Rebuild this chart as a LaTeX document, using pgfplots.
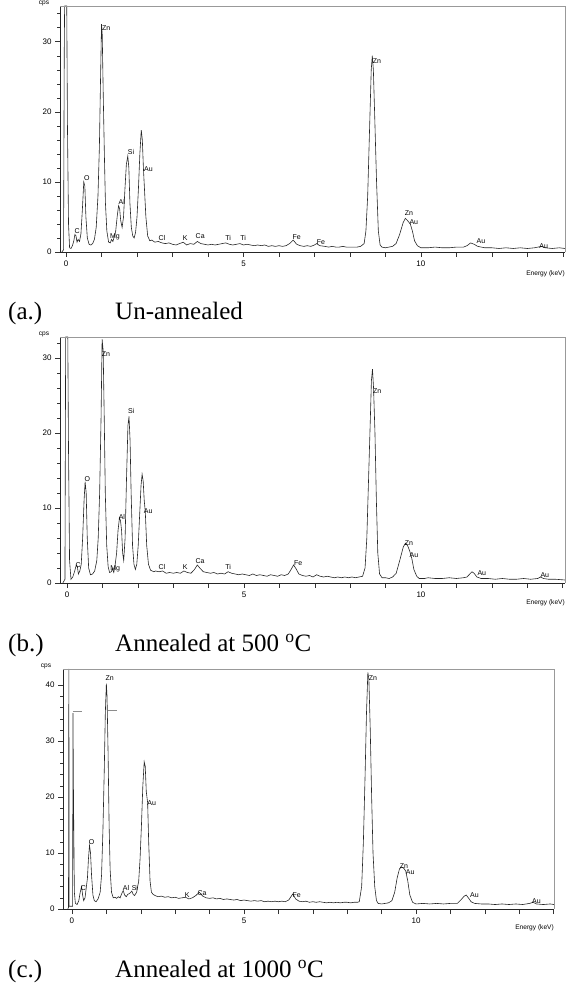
\documentclass[border=0pt]{standalone}
\usepackage{fontspec}
\setmainfont{Liberation Serif}
\newfontfamily\arial{Liberation Sans}
\usepackage{pgfplots}
\pgfplotsset{compat=1.18}

\pgfplotsset{
  eds/.style={
    scale only axis, clip=false, anchor=south west,
    axis x line*=bottom, axis y line*=left,
    axis line style={black!85, line width=0.6pt},
    xtick={0,...,14}, xticklabels={0,,,,,5,,,,,10,,,,},
    ytick={0,10,...,40}, minor y tick num=4,
    tick align=outside,
    major tick length=5pt, minor tick length=3pt,
    every tick/.style={black!80, line width=0.5pt},
    ticklabel style={font=\arial\fontsize{8}{9}\selectfont},
    /pgf/number format/assume math mode=true,
    ymin=0,
  },
  spec/.style={black!85, line width=0.6pt, mark=none},
}
\tikzset{
  lab/.style={font=\arial\fontsize{7}{8}\selectfont, inner sep=0pt},
  small/.style={font=\arial\fontsize{6.6}{7}\selectfont, inner sep=0pt},
  captxt/.style={anchor=base west, font=\fontsize{25}{28}\selectfont, inner sep=0pt},
}

\begin{document}
\begin{tikzpicture}
\useasboundingbox (0pt,0pt) rectangle (566pt,985pt);

% ---------------- (a) un-annealed
\begin{axis}[eds, at={(60pt,733pt)}, width=505pt, height=246pt,
  xmin=-0.17, xmax=14.06, ymax=35.1]
\addplot[spec] coordinates {
(-0.12,0) (-0.07,0.3) (-0.05,28.5) (-0.04,35.1) (0.02,35.1) (0.04,18) (0.07,4) (0.1,0.6)
(0.14,0.5) (0.18,0.9) (0.22,1.6) (0.25,2.5) (0.28,2.3) (0.31,1.4) (0.34,1.8) (0.38,1.5)
(0.42,2.6) (0.46,6) (0.5,10) (0.53,9.4) (0.56,5) (0.6,2) (0.65,1.1) (0.7,1.0) (0.75,1.2)
(0.8,1.8) (0.85,3.5) (0.9,8) (0.94,15) (0.97,24) (1.0,32.5) (1.02,31) (1.05,22) (1.08,14)
(1.11,7) (1.15,3) (1.2,1.4) (1.25,1.3) (1.28,1.8) (1.32,1.5) (1.36,2.2) (1.4,3) (1.44,5)
(1.48,6.6) (1.51,6.2) (1.54,4.5) (1.58,3.5) (1.62,5) (1.66,9) (1.7,12.5) (1.74,13.7)
(1.77,12) (1.8,7) (1.84,3.5) (1.88,2.3) (1.92,2.0) (1.96,2.8) (2.0,5) (2.04,9) (2.08,14)
(2.12,17.4) (2.15,16) (2.18,12) (2.21,9) (2.25,5) (2.3,2.3) (2.36,1.6) (2.42,1.7)
(2.5,1.4) (2.6,1.5) (2.7,1.3) (2.8,1.2) (2.9,1.3) (3.0,1.1) (3.1,1.0) (3.2,1.2) (3.3,1.4)
(3.4,1.0) (3.5,1.2) (3.6,1.1) (3.7,1.5) (3.8,1.2) (3.9,1.1) (4.0,1.0) (4.1,1.1) (4.2,1.0)
(4.3,1.1) (4.4,1.2) (4.5,1.3) (4.6,1.1) (4.7,1.0) (4.8,1.1) (4.9,1.2) (5.0,1.0) (5.1,1.1)
(5.2,1.0) (5.3,0.9) (5.4,1.0) (5.5,0.9) (5.6,1.0) (5.7,0.8) (5.8,0.9) (5.9,0.8) (6.0,0.9)
(6.1,0.8) (6.2,0.9) (6.3,1.2) (6.4,1.7) (6.5,1.1) (6.6,0.9) (6.7,0.8) (6.8,0.9) (6.9,0.8)
(7.0,1.0) (7.06,1.2) (7.15,0.9) (7.3,0.8) (7.4,0.7) (7.5,0.8) (7.6,0.7) (7.7,0.7) (7.8,0.8)
(7.9,0.7) (8.0,0.7) (8.1,0.7) (8.2,0.7) (8.3,0.8) (8.4,1.2) (8.45,3) (8.5,8) (8.55,17)
(8.6,26) (8.63,28) (8.66,26) (8.7,19) (8.75,10) (8.8,3) (8.85,1.0) (8.9,0.7) (9.0,0.6)
(9.1,0.7) (9.2,0.8) (9.3,1.2) (9.4,2.5) (9.5,4.2) (9.56,4.8) (9.62,4.5) (9.7,4.0) (9.76,3)
(9.82,1.6) (9.9,0.9) (10.0,0.6) (10.2,0.6) (10.4,0.7) (10.6,0.6) (10.8,0.6) (11.0,0.7)
(11.2,0.7) (11.3,0.9) (11.4,1.3) (11.5,1.1) (11.6,0.8) (11.8,0.6) (12.0,0.6) (12.2,0.5)
(12.4,0.6) (12.6,0.5) (12.8,0.6) (13.0,0.5) (13.2,0.6) (13.3,0.7) (13.4,0.8) (13.5,0.6)
(13.7,0.5) (13.9,0.6) (14.06,0.5)
};
\draw[black!40] (rel axis cs:0,1) -- (rel axis cs:1,1) -- (rel axis cs:1,0);
\node[lab] at (axis cs:0.31,3.0) {C};
\node[lab] at (axis cs:0.59,10.6) {O};
\node[lab] at (axis cs:1.13,32) {Zn};
\node[lab] at (axis cs:1.38,2.1) {Mg};
\node[lab] at (axis cs:1.57,7.1) {Al};
\node[lab] at (axis cs:1.83,14.2) {Si};
\node[lab] at (axis cs:2.32,11.8) {Au};
\node[lab] at (axis cs:2.7,2.0) {Cl};
\node[lab] at (axis cs:3.36,2.0) {K};
\node[lab] at (axis cs:3.78,2.3) {Ca};
\node[lab] at (axis cs:4.57,2.0) {Ti};
\node[lab] at (axis cs:4.99,2.0) {Ti};
\node[lab] at (axis cs:6.5,2.1) {Fe};
\node[lab] at (axis cs:7.18,1.4) {Fe};
\node[lab] at (axis cs:8.76,27.2) {Zn};
\node[lab] at (axis cs:9.66,5.6) {Zn};
\node[lab] at (axis cs:9.8,4.3) {Au};
\node[lab] at (axis cs:11.69,1.6) {Au};
\node[lab] at (axis cs:13.46,0.9) {Au};
\node[small, anchor=east] at ([yshift=-22pt]rel axis cs:1,0) {Energy (keV)};
\node[small] at ([xshift=-16pt,yshift=3pt]rel axis cs:0,1) {cps};
\end{axis}

% ---------------- (b) 500 C
\begin{axis}[eds, at={(60pt,402pt)}, width=505pt, height=246pt,
  xmin=-0.2, xmax=14.07, ymax=32.8]
\addplot[spec] coordinates {
(-0.12,0) (-0.06,0.5) (-0.04,32.8) (0.02,32.8) (0.04,18) (0.07,3) (0.11,0.5) (0.16,0.8)
(0.21,1.5) (0.26,2.4) (0.29,2.2) (0.32,1.2) (0.36,1.6) (0.4,2.5) (0.44,6) (0.48,11)
(0.51,13.5) (0.54,12) (0.57,6) (0.61,2) (0.66,1.1) (0.72,1.2) (0.78,1.6) (0.84,3) (0.88,6)
(0.92,12) (0.96,22) (0.99,32.5) (1.02,31) (1.05,22) (1.08,12) (1.12,5) (1.16,2.2)
(1.2,1.4) (1.25,1.5) (1.28,1.9) (1.32,1.4) (1.36,2.5) (1.4,4) (1.44,7) (1.48,8.7)
(1.51,8.3) (1.54,7) (1.57,4) (1.6,3) (1.64,6) (1.68,14) (1.72,21) (1.75,22.2) (1.78,19)
(1.81,12) (1.85,5) (1.89,2.5) (1.93,1.8) (1.97,2.5) (2.01,5) (2.05,9) (2.09,13) (2.12,14.5)
(2.15,13.6) (2.18,11) (2.21,9.5) (2.25,5) (2.3,2.5) (2.36,1.7) (2.45,1.5) (2.5,1.6)
(2.6,1.5) (2.7,1.6) (2.8,1.3) (2.9,1.4) (3.0,1.3) (3.1,1.4) (3.2,1.3) (3.3,1.6) (3.4,1.4)
(3.5,1.3) (3.6,1.8) (3.68,2.4) (3.75,2.0) (3.85,1.5) (3.95,1.4) (4.05,1.3) (4.15,1.4)
(4.25,1.2) (4.35,1.3) (4.45,1.2) (4.55,1.5) (4.65,1.3) (4.75,1.2) (4.85,1.1) (4.95,1.2)
(5.05,1.1) (5.15,1.0) (5.25,1.2) (5.35,1.0) (5.45,1.1) (5.55,1.0) (5.65,0.9) (5.75,1.1)
(5.85,1.0) (5.95,0.9) (6.05,1.1) (6.15,1.0) (6.25,1.2) (6.33,1.8) (6.4,2.4) (6.47,1.9)
(6.55,1.2) (6.65,1.0) (6.75,0.9) (6.85,1.0) (6.95,0.8) (7.05,1.1) (7.15,0.9) (7.25,0.8)
(7.35,0.9) (7.45,0.8) (7.55,0.7) (7.65,0.8) (7.75,0.7) (7.85,0.8) (7.95,0.7) (8.05,0.8)
(8.15,0.7) (8.25,0.8) (8.35,0.9) (8.42,2) (8.47,6) (8.52,14) (8.57,22) (8.6,27)
(8.63,28.5) (8.66,26) (8.7,20) (8.74,11) (8.78,4) (8.83,1.2) (8.9,0.7) (9.0,0.7) (9.1,0.6)
(9.2,0.8) (9.3,1.3) (9.4,3) (9.5,4.8) (9.56,5.3) (9.62,5) (9.68,4.3) (9.74,3.3) (9.8,1.8)
(9.88,0.9) (9.95,0.6) (10.1,0.6) (10.2,0.7) (10.4,0.6) (10.6,0.6) (10.8,0.7) (11.0,0.6)
(11.2,0.7) (11.3,0.8) (11.38,1.2) (11.44,1.5) (11.5,1.3) (11.58,0.8) (11.7,0.6) (11.9,0.6)
(12.1,0.5) (12.3,0.6) (12.5,0.5) (12.7,0.5) (12.9,0.6) (13.1,0.5) (13.3,0.6) (13.38,0.8)
(13.46,0.6) (13.6,0.5) (13.8,0.5) (14.07,0.4)
};
\draw[black!40] (rel axis cs:0,1) -- (rel axis cs:1,1) -- (rel axis cs:1,0);
\node[lab] at (axis cs:0.31,2.4) {C};
\node[lab] at (axis cs:0.57,13.9) {O};
\node[lab] at (axis cs:1.1,30.5) {Zn};
\node[lab] at (axis cs:1.36,1.9) {Mg};
\node[lab] at (axis cs:1.55,8.8) {Al};
\node[lab] at (axis cs:1.81,22.9) {Si};
\node[lab] at (axis cs:2.29,9.6) {Au};
\node[lab] at (axis cs:2.68,2.1) {Cl};
\node[lab] at (axis cs:3.34,2.1) {K};
\node[lab] at (axis cs:3.76,2.9) {Ca};
\node[lab] at (axis cs:4.55,2.1) {Ti};
\node[lab] at (axis cs:6.53,2.7) {Fe};
\node[lab] at (axis cs:8.76,25.6) {Zn};
\node[lab] at (axis cs:9.66,5.3) {Zn};
\node[lab] at (axis cs:9.8,3.7) {Au};
\node[lab] at (axis cs:11.72,1.3) {Au};
\node[lab] at (axis cs:13.5,1.0) {Au};
\node[small, anchor=east] at ([yshift=-20pt]rel axis cs:1,0) {Energy (keV)};
\node[small] at ([xshift=-16pt,yshift=3pt]rel axis cs:0,1) {cps};
\end{axis}

% ---------------- (c) 1000 C
\begin{axis}[eds, at={(63pt,76pt)}, width=491pt, height=240pt,
  xmin=-0.26, xmax=14.01, ymax=42.9]
\addplot[spec] coordinates {
(-0.12,0) (-0.1,0.3) (-0.09,42.9) (-0.08,0.5) (0.02,0.5) (0.03,35) (0.045,20) (0.07,3)
(0.1,1) (0.15,0.8) (0.2,1.5) (0.24,3) (0.28,4) (0.31,2.5) (0.34,1.5) (0.38,2) (0.42,4)
(0.45,5.5) (0.48,9) (0.51,11.4) (0.54,10) (0.57,6) (0.61,2.5) (0.65,1.5) (0.7,1.3)
(0.76,1.8) (0.82,3) (0.86,6) (0.9,14) (0.94,25) (0.97,35) (1.0,40.3) (1.02,38) (1.05,28)
(1.08,15) (1.11,7) (1.15,3) (1.2,2) (1.25,2.1) (1.3,1.9) (1.35,2.2) (1.4,2.0) (1.45,2.8)
(1.49,3.3) (1.53,2.5) (1.58,2.2) (1.62,2.6) (1.68,2.8) (1.74,3.2) (1.78,2.6) (1.82,2.4)
(1.88,3) (1.94,5) (1.98,9) (2.02,15) (2.06,22) (2.1,26.3) (2.13,25.5) (2.16,21) (2.2,19)
(2.23,12) (2.27,5) (2.31,3) (2.36,2.6) (2.42,2.4) (2.5,2.2) (2.6,2.3) (2.7,2.1) (2.8,2.2)
(2.9,2.0) (3.0,2.1) (3.1,1.9) (3.2,2.0) (3.3,2.1) (3.4,1.8) (3.5,2.0) (3.6,2.4) (3.7,3.0)
(3.8,2.3) (3.9,2.0) (4.0,1.9) (4.1,2.0) (4.2,1.8) (4.3,1.9) (4.4,1.7) (4.5,1.8) (4.6,1.7)
(4.7,1.6) (4.8,1.7) (4.9,1.5) (5.0,1.6) (5.1,1.5) (5.2,1.4) (5.3,1.5) (5.4,1.4) (5.5,1.5)
(5.6,1.3) (5.7,1.4) (5.8,1.3) (5.9,1.4) (6.0,1.3) (6.1,1.4) (6.2,1.3) (6.3,1.6) (6.42,2.7)
(6.5,1.8) (6.6,1.4) (6.7,1.3) (6.8,1.4) (6.9,1.2) (7.0,1.3) (7.1,1.2) (7.2,1.3) (7.3,1.2)
(7.4,1.1) (7.5,1.2) (7.6,1.1) (7.7,1.2) (7.8,1.1) (7.9,1.2) (8.0,1.2) (8.1,1.1) (8.2,1.2)
(8.3,1.2) (8.35,1.3) (8.42,4) (8.47,12) (8.52,24) (8.56,35) (8.6,42.3) (8.63,41) (8.67,32)
(8.71,20) (8.75,10) (8.8,4) (8.85,1.5) (8.9,1.0) (9.0,0.9) (9.1,1.0) (9.2,1.1) (9.3,1.5)
(9.38,3) (9.45,5.5) (9.52,7.2) (9.58,7.5) (9.64,7.3) (9.7,6.8) (9.76,5) (9.82,2.5) (9.9,1.2)
(10.0,0.9) (10.2,1.0) (10.4,0.9) (10.6,1.0) (10.8,0.9) (11.0,1.0) (11.2,1.0) (11.3,1.6)
(11.4,2.3) (11.46,2.5) (11.52,2.0) (11.6,1.3) (11.7,1.0) (11.9,0.9) (12.1,0.9) (12.3,0.8)
(12.5,0.9) (12.7,0.8) (12.9,0.9) (13.1,0.8) (13.3,1.0) (13.4,1.2) (13.5,0.9) (13.7,0.8)
(13.9,0.9) (14.01,0.8)
};
\addplot[black!45, line width=0.5pt, mark=none] coordinates {(0.03,35.3) (0.29,35.3)};
\addplot[black!45, line width=0.5pt, mark=none] coordinates {(1.05,35.5) (1.3,35.5)};
\draw[black!40] (rel axis cs:0,1) -- (rel axis cs:1,1) -- (rel axis cs:1,0);
\node[lab] at (axis cs:0.33,3.7) {C};
\node[lab] at (axis cs:0.57,12) {O};
\node[lab] at (axis cs:1.1,41.2) {Zn};
\node[lab] at (axis cs:1.57,3.7) {Al};
\node[lab] at (axis cs:1.83,3.7) {Si};
\node[lab] at (axis cs:2.32,19) {Au};
\node[lab] at (axis cs:3.35,2.5) {K};
\node[lab] at (axis cs:3.78,2.9) {Ca};
\node[lab] at (axis cs:6.53,2.5) {Fe};
\node[lab] at (axis cs:8.75,41.3) {Zn};
\node[lab] at (axis cs:9.65,7.7) {Zn};
\node[lab] at (axis cs:9.83,6.6) {Au};
\node[lab] at (axis cs:11.7,2.5) {Au};
\node[lab] at (axis cs:13.5,1.4) {Au};
\node[small, anchor=east] at ([yshift=-19pt]rel axis cs:1,0) {Energy (keV)};
\node[small] at ([xshift=-17pt,yshift=3pt]rel axis cs:0,1) {cps};
\end{axis}

% ---------------- captions
\node[captxt] at (8pt,665pt) {(a.)};
\node[captxt] at (115pt,665pt) {Un-annealed};
\node[captxt] at (8pt,333pt) {(b.)};
\node[captxt] at (115pt,333pt) {Annealed at 500 \textsuperscript{o}C};
\node[captxt] at (8pt,7pt) {(c.)};
\node[captxt] at (115pt,7pt) {Annealed at 1000 \textsuperscript{o}C};
\end{tikzpicture}
\end{document}
